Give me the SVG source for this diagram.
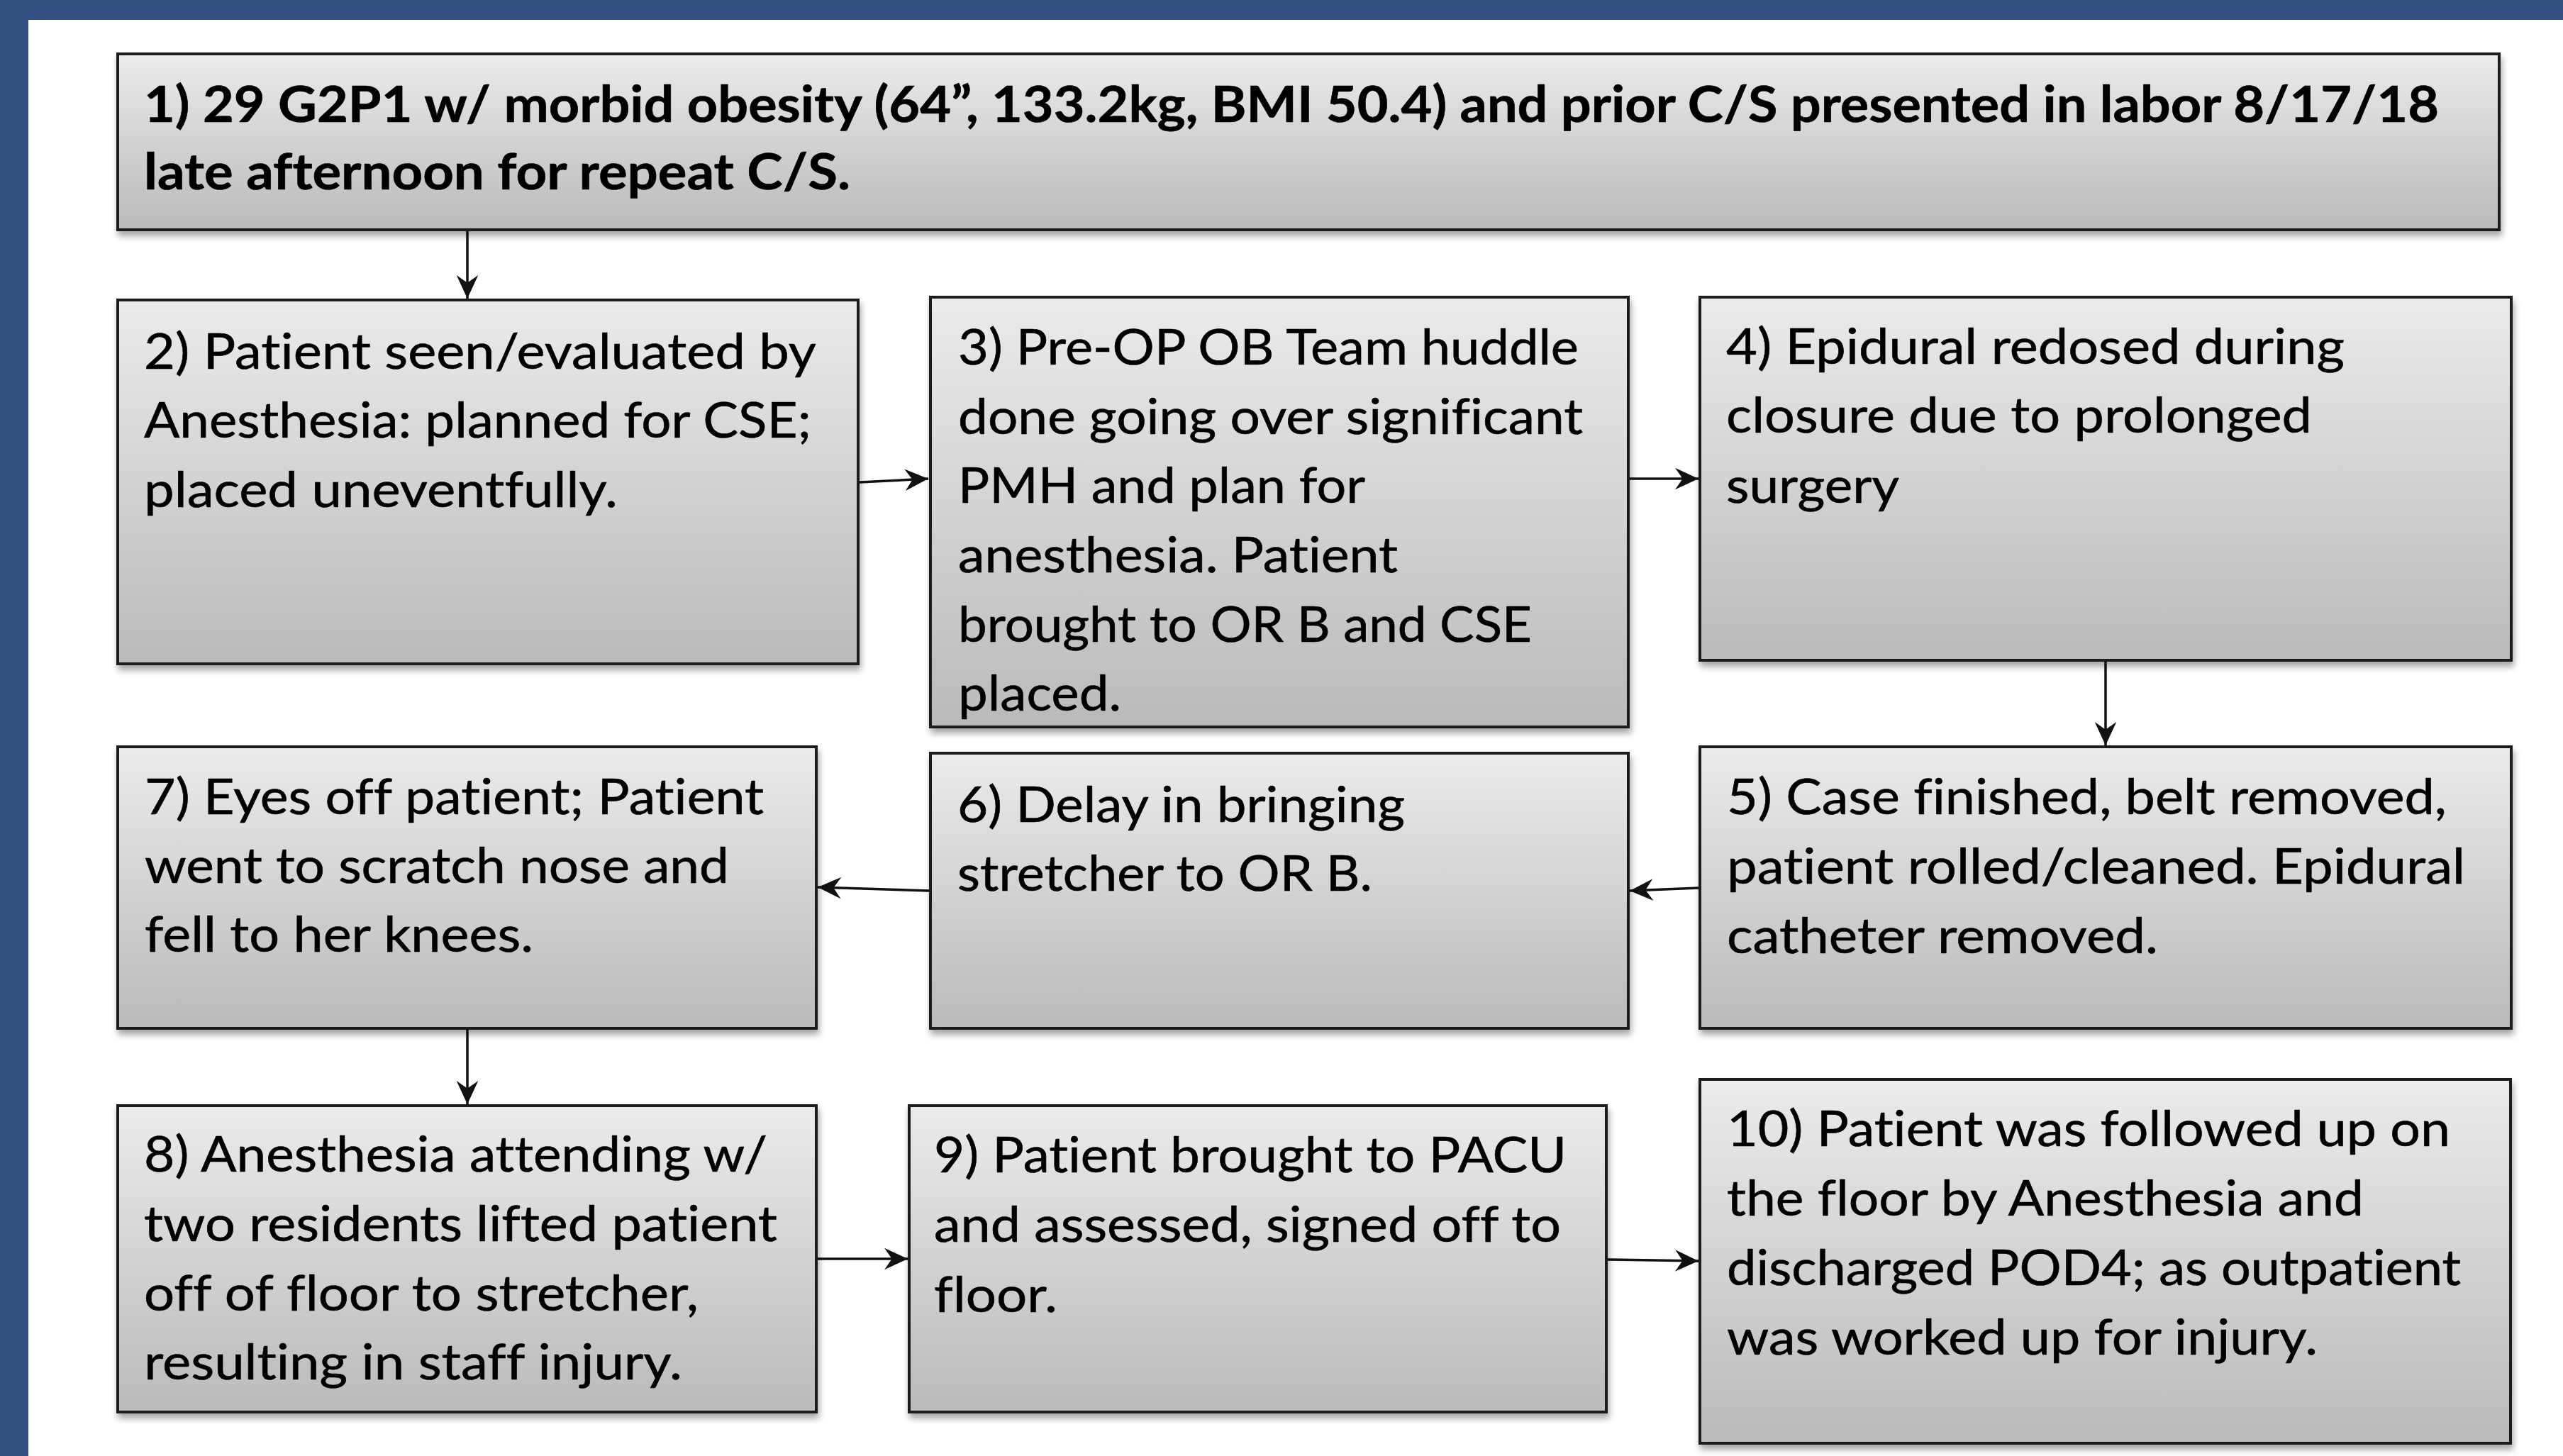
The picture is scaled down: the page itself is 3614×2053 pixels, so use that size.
<svg xmlns="http://www.w3.org/2000/svg" width="3614" height="2053" viewBox="0 0 3614 2053">
<defs>
<linearGradient id="g" x1="0" y1="0" x2="0" y2="1">
<stop offset="0" stop-color="#ebebeb"/>
<stop offset="1" stop-color="#bababa"/>
</linearGradient>
<filter id="sh" x="-5%" y="-5%" width="110%" height="120%">
<feDropShadow dx="2" dy="7" stdDeviation="5" flood-color="#000" flood-opacity="0.35"/>
</filter>
<marker id="ah" markerUnits="userSpaceOnUse" markerWidth="40" markerHeight="40" viewBox="-30 -16 34 32" refX="0" refY="0" orient="auto">
<path d="M0,0 L-28,-13 L-19,0 L-28,13 Z" fill="#111"/>
</marker>
</defs>
<style>
.box{fill:url(#g);stroke:#1c1c1c;stroke-width:4;filter:url(#sh)}
.t{font-family:Lato,"Liberation Sans",sans-serif;font-size:70px;fill:#000;font-variant-ligatures:none;stroke:#000;stroke-width:0.6}
.b{font-weight:bold}
.c{fill:none;stroke:#111;stroke-width:3.5;marker-end:url(#ah)}
</style>
<rect x="0" y="0" width="3614" height="2053" fill="#ffffff"/>
<rect x="0" y="0" width="3614" height="28" fill="#334e80"/>
<rect x="0" y="0" width="40" height="2053" fill="#334e80"/>

<g id="connectors">
<line class="c" x1="659" y1="326" x2="659" y2="421"/>
<line class="c" x1="1212" y1="680" x2="1309" y2="675"/>
<line class="c" x1="2298" y1="675" x2="2395" y2="675"/>
<line class="c" x1="2969" y1="933" x2="2969" y2="1051"/>
<line class="c" x1="2395" y1="1252" x2="2298" y2="1256"/>
<line class="c" x1="1310" y1="1256" x2="1153" y2="1251"/>
<line class="c" x1="659" y1="1452" x2="659" y2="1557"/>
<line class="c" x1="1153" y1="1775" x2="1280" y2="1775"/>
<line class="c" x1="2267" y1="1776" x2="2395" y2="1778"/>
</g>

<g id="node1">
<rect class="box" x="166" y="76" width="3358" height="248"/>
<text class="t b" x="203" y="172" textLength="3236" lengthAdjust="spacingAndGlyphs">1) 29 G2P1 w/ morbid obesity (64”, 133.2kg, BMI 50.4) and prior C/S presented in labor 8/17/18</text>
<text class="t b" x="203" y="267" textLength="996" lengthAdjust="spacingAndGlyphs">late afternoon for repeat C/S.</text>
</g>

<g id="node2">
<rect class="box" x="166" y="423" width="1044" height="513"/>
<text class="t" x="203" y="520" textLength="948" lengthAdjust="spacingAndGlyphs">2) Patient seen/evaluated by</text>
<text class="t" x="203" y="617" textLength="941" lengthAdjust="spacingAndGlyphs">Anesthesia: planned for CSE;</text>
<text class="t" x="203" y="715" textLength="668" lengthAdjust="spacingAndGlyphs">placed uneventfully.</text>
</g>

<g id="node3">
<rect class="box" x="1312" y="419" width="984" height="606"/>
<text class="t" x="1351" y="514" textLength="875" lengthAdjust="spacingAndGlyphs">3) Pre-OP OB Team huddle</text>
<text class="t" x="1351" y="612" textLength="881" lengthAdjust="spacingAndGlyphs">done going over significant</text>
<text class="t" x="1351" y="709" textLength="574" lengthAdjust="spacingAndGlyphs">PMH and plan for</text>
<text class="t" x="1351" y="807" textLength="620" lengthAdjust="spacingAndGlyphs">anesthesia. Patient</text>
<text class="t" x="1351" y="905" textLength="809" lengthAdjust="spacingAndGlyphs">brought to OR B and CSE</text>
<text class="t" x="1351" y="1002" textLength="230" lengthAdjust="spacingAndGlyphs">placed.</text>
</g>

<g id="node4">
<rect class="box" x="2397" y="419" width="1144" height="512"/>
<text class="t" x="2434" y="513" textLength="872" lengthAdjust="spacingAndGlyphs">4) Epidural redosed during</text>
<text class="t" x="2434" y="610" textLength="826" lengthAdjust="spacingAndGlyphs">closure due to prolonged</text>
<text class="t" x="2434" y="709" textLength="244" lengthAdjust="spacingAndGlyphs">surgery</text>
</g>

<g id="node5">
<rect class="box" x="2397" y="1053" width="1144" height="397"/>
<text class="t" x="2435" y="1148" textLength="1015" lengthAdjust="spacingAndGlyphs">5) Case finished, belt removed,</text>
<text class="t" x="2435" y="1246" textLength="1041" lengthAdjust="spacingAndGlyphs">patient rolled/cleaned. Epidural</text>
<text class="t" x="2435" y="1344" textLength="608" lengthAdjust="spacingAndGlyphs">catheter removed.</text>
</g>

<g id="node6">
<rect class="box" x="1312" y="1062" width="984" height="388"/>
<text class="t" x="1350" y="1159" textLength="631" lengthAdjust="spacingAndGlyphs">6) Delay in bringing</text>
<text class="t" x="1350" y="1256" textLength="585" lengthAdjust="spacingAndGlyphs">stretcher to OR B.</text>
</g>

<g id="node7">
<rect class="box" x="166" y="1053" width="985" height="397"/>
<text class="t" x="204" y="1148" textLength="873" lengthAdjust="spacingAndGlyphs">7) Eyes off patient; Patient</text>
<text class="t" x="204" y="1245" textLength="824" lengthAdjust="spacingAndGlyphs">went to scratch nose and</text>
<text class="t" x="204" y="1342" textLength="548" lengthAdjust="spacingAndGlyphs">fell to her knees.</text>
</g>

<g id="node8">
<rect class="box" x="166" y="1559" width="985" height="432"/>
<text class="t" x="203" y="1652" textLength="879" lengthAdjust="spacingAndGlyphs">8) Anesthesia attending w/</text>
<text class="t" x="203" y="1750" textLength="893" lengthAdjust="spacingAndGlyphs">two residents lifted patient</text>
<text class="t" x="203" y="1848" textLength="782" lengthAdjust="spacingAndGlyphs">off of floor to stretcher,</text>
<text class="t" x="203" y="1945" textLength="759" lengthAdjust="spacingAndGlyphs">resulting in staff injury.</text>
</g>

<g id="node9">
<rect class="box" x="1282" y="1559" width="983" height="432"/>
<text class="t" x="1317" y="1653" textLength="892" lengthAdjust="spacingAndGlyphs">9) Patient brought to PACU</text>
<text class="t" x="1317" y="1751" textLength="884" lengthAdjust="spacingAndGlyphs">and assessed, signed off to</text>
<text class="t" x="1317" y="1850" textLength="174" lengthAdjust="spacingAndGlyphs">floor.</text>
</g>

<g id="node10">
<rect class="box" x="2397" y="1522" width="1143" height="513"/>
<text class="t" x="2435" y="1616" textLength="1020" lengthAdjust="spacingAndGlyphs">10) Patient was followed up on</text>
<text class="t" x="2435" y="1714" textLength="898" lengthAdjust="spacingAndGlyphs">the floor by Anesthesia and</text>
<text class="t" x="2435" y="1812" textLength="1035" lengthAdjust="spacingAndGlyphs">discharged POD4; as outpatient</text>
<text class="t" x="2435" y="1910" textLength="833" lengthAdjust="spacingAndGlyphs">was worked up for injury.</text>
</g>
</svg>
